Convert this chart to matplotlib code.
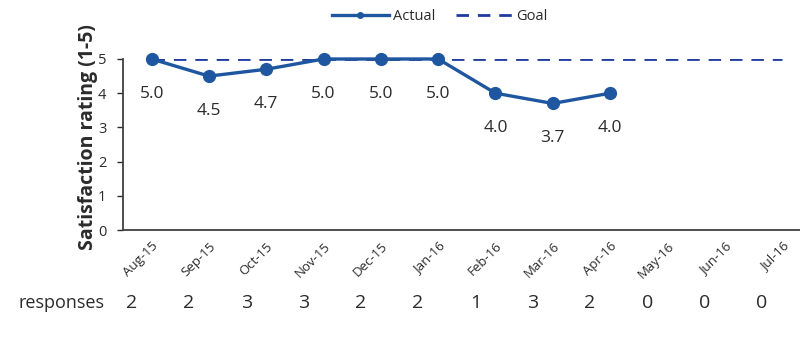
import matplotlib
matplotlib.use("Agg")
import matplotlib.pyplot as plt
from matplotlib.lines import Line2D

plt.rcParams['font.family'] = ['Open Sans', 'DejaVu Sans']

months = ["Aug-15", "Sep-15", "Oct-15", "Nov-15", "Dec-15", "Jan-16",
          "Feb-16", "Mar-16", "Apr-16", "May-16", "Jun-16", "Jul-16"]
actual = [5.0, 4.5, 4.7, 5.0, 5.0, 5.0, 4.0, 3.7, 4.0]
goal = [5, 5, 5, 5, 5, 5, 5, 5, 5, 5, 5, 5]
responses = [2, 2, 3, 3, 2, 2, 1, 3, 2, 0, 0, 0]

actual_color = "#1f56a0"
goal_color = "#1f3c9c"
text_color = "#2b2b2b"

fig = plt.figure(figsize=(8, 3.4), dpi=100)
ax = fig.add_axes([123 / 800, 1 - 230 / 340, 677 / 800, (230 - 59) / 340])

xs = list(range(len(months)))
ax.plot(xs, goal, color=goal_color, lw=2.0, ls=(0, (4.5, 3.2)), zorder=2)
ax.plot(xs[:len(actual)], actual, color=actual_color, lw=2.4, marker='o',
        markersize=8.5, zorder=3, clip_on=False)

for x, v in zip(xs, actual):
    ax.annotate(f"{v:.1f}", (x, v), xytext=(0, -25), textcoords='offset points',
                ha='center', va='center', fontsize=12.5, color=text_color)

ax.set_xlim(-0.5, -0.5 + 677 / 57.3)
ax.set_ylim(0, 5)
ax.set_yticks(range(6))
ax.set_xticks(xs)
ax.set_xticklabels(months, rotation=45, ha='right', rotation_mode='anchor',
                   fontsize=9.5, color=text_color)
ax.tick_params(axis='y', labelsize=10.5, colors=text_color, length=4, width=1,
               pad=8)
ax.tick_params(axis='x', length=0, pad=7)
for s in ['top', 'right']:
    ax.spines[s].set_visible(False)
for s in ['left', 'bottom']:
    ax.spines[s].set_color('#404040')
    ax.spines[s].set_linewidth(1.3)

fig.text(88 / 800, 1 - 137.5 / 340, "Satisfaction rating (1-5)", fontsize=14,
         fontweight='bold', color=text_color, rotation=90,
         ha='center', va='center')

# responses row beneath the month labels
fig.text(18 / 800, 1 - 303 / 340, "responses", fontsize=13, color=text_color,
         ha='left', va='center')
for x, n in zip(xs, responses):
    ax.text(x - 0.35, -0.425, str(n), transform=ax.get_xaxis_transform(),
            ha='center', va='center', fontsize=14, color=text_color)

handles = [
    Line2D([], [], color=actual_color, lw=2.4, marker='o', markersize=4),
    Line2D([], [], color=goal_color, lw=2.0, ls=(0, (4.5, 3.2))),
]
fig.legend(handles, ["Actual", "Goal"], loc='center', ncol=2,
           bbox_to_anchor=(440 / 800, 1 - 17 / 340), frameon=False,
           fontsize=10.5, handlelength=3.85, columnspacing=1.4, handletextpad=0.3,
           labelcolor=text_color)

fig.savefig("out.png", dpi=100)
